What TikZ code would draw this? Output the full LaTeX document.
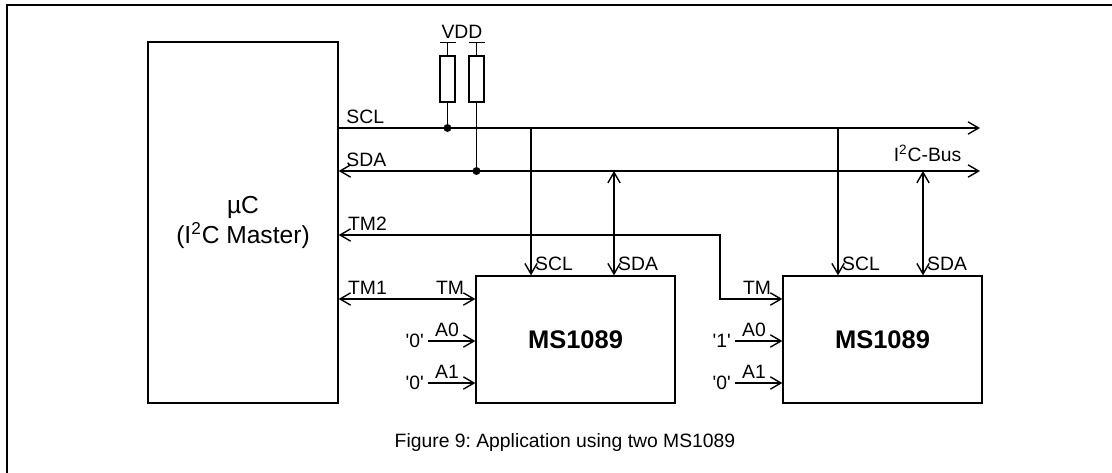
\documentclass[tikz,border=0pt]{standalone}
\usepackage{fontspec}
\setmainfont{Liberation Sans}
\usetikzlibrary{arrows.meta}
\frenchspacing
\begin{document}
\begin{tikzpicture}[x=0.02cm,y=-0.02cm,line width=0.8pt,
  >={Straight Barb[length=6pt,width=7pt]},
  font=\fontsize{11}{13}\selectfont,
  chip/.style={draw,minimum width=3.98cm,minimum height=2.54cm,inner sep=0pt,
    font=\fontsize{14.5}{17}\selectfont\bfseries},
  res/.style={draw,minimum width=0.3cm,minimum height=0.92cm,inner sep=0pt},
  lbl/.style={inner sep=2pt},
  dot/.style={circle,fill,inner sep=0pt,minimum size=4.5pt}]
  \useasboundingbox (0,0) rectangle (1112,473);
  \draw[line width=1.6pt] (7,480) -- (7,5) -- (1120,5);

  \node (uc) at (243,222.5) [draw,minimum width=3.8cm,minimum height=7.22cm,
    align=center,font=\fontsize{14}{17}\selectfont] {µC\\(I\textsuperscript{2}C Master)};
  \node (m1) at (575.5,339.5) [chip] {MS1089};
  \node (m2) at (882.5,339.5) [chip] {MS1089};

  % bus lines
  \coordinate (scl) at (980,128); \coordinate (sda) at (980,171);
  \draw[->] (uc.east |- scl) node[lbl,above right,xshift=2pt] {SCL} -- (scl);
  \draw[<->] (uc.east |- sda) node[lbl,above right,xshift=2pt] {SDA} -- (sda);
  \node (bus) at (962,161) [anchor=base east,inner sep=0pt] {I\textsuperscript{2}C-Bus};

  % pull-ups
  \node (r1) at (447.5,79) [res] {}; \node (r2) at (476.5,79) [res] {};
  \draw (r1.north) -- ++(0,-13) coordinate (v1) ++(-8,0) -- ++(16,0);
  \draw (r2.north) -- ++(0,-13) coordinate (v2) ++(-8,0) -- ++(16,0);
  \path (v1) -- (v2) node[lbl,midway,above] {VDD};
  \draw (r1.south) -- (r1.south |- scl) node[dot] {};
  \draw (r2.south) -- (r2.south |- sda) node[dot] {};

  % taps to the slaves
  \coordinate (m1scl) at (531,128); \coordinate (m1sda) at (614,171);
  \coordinate (m2scl) at (838,128); \coordinate (m2sda) at (923,171);
  \draw[->] (m1scl) -- (m1scl |- m1.north) node[lbl,above right] {SCL};
  \draw[<->] (m1sda) -- (m1sda |- m1.north) node[lbl,above right] {SDA};
  \draw[->] (m2scl) -- (m2scl |- m2.north) node[lbl,above right] {SCL};
  \draw[<->] (m2sda) -- (m2sda |- m2.north) node[lbl,above right] {SDA};

  % TM lines
  \coordinate (tm) at (0,299); \coordinate (bend) at (720,235);
  \draw[<->] (uc.east |- tm) node[lbl,above right,xshift=3pt] {TM1}
    -- (m1.west |- tm) node[lbl,above left,xshift=-4pt] {TM};
  \draw[<->] (uc.east |- bend) node[lbl,above right,xshift=3pt] {TM2}
    -- (bend) |- (m2.west |- tm) node[lbl,above left,xshift=-4pt] {TM};

  % address pins
  \coordinate (m1a0) at (428,341); \coordinate (m1a1) at (428,383);
  \coordinate (m2a0) at (735,341); \coordinate (m2a1) at (735,383);
  \draw[->] (m1a0) node[lbl,left] {\textquotesingle0\textquotesingle}
    -- (m1.west |- m1a0) node[lbl,pos=0.4,above] {A0};
  \draw[->] (m1a1) node[lbl,left] {\textquotesingle0\textquotesingle}
    -- (m1.west |- m1a1) node[lbl,pos=0.4,above] {A1};
  \draw[->] (m2a0) node[lbl,left] {\textquotesingle1\textquotesingle}
    -- (m2.west |- m2a0) node[lbl,pos=0.4,above] {A0};
  \draw[->] (m2a1) node[lbl,left] {\textquotesingle0\textquotesingle}
    -- (m2.west |- m2a1) node[lbl,pos=0.4,above] {A1};

  \node (cap) at (565,442) {Figure 9: Application using two MS1089};
\end{tikzpicture}
\end{document}
